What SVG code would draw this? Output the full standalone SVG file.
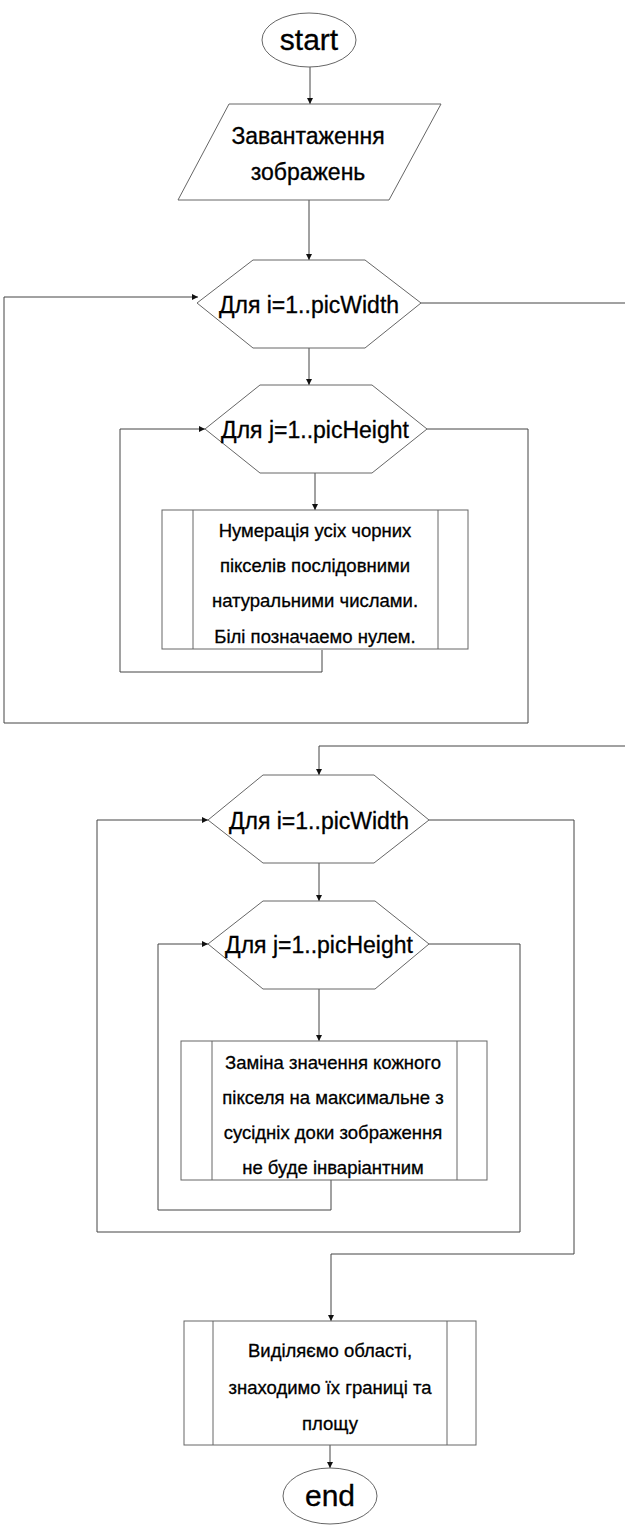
<svg xmlns="http://www.w3.org/2000/svg" width="625" height="1525" viewBox="0 0 625 1525">
<style>
.s{fill:#fff;stroke:#666;stroke-width:1}
.c{fill:none;stroke:#444;stroke-width:1}
.t{font-family:"Liberation Sans",Arial,sans-serif;fill:#000;stroke:#000;stroke-width:0.3;text-anchor:middle}
.big{font-size:30px}
.h{font-size:23px}
.b{font-size:18.5px}
</style>
<defs>
<marker id="a" markerWidth="8" markerHeight="8" refX="6" refY="3" orient="auto" markerUnits="userSpaceOnUse">
<path d="M0,0 L6,3 L0,6 Z" fill="#111"/>
</marker>
</defs>
<rect width="625" height="1525" fill="#fff"/>
<g id="connectors">
<path class="c" d="M310,67 L310,104" marker-end="url(#a)"/>
<path class="c" d="M309,200 L309,260" marker-end="url(#a)"/>
<path class="c" d="M421,303 L625,303"/>
<path class="c" d="M309,348 L309,385" marker-end="url(#a)"/>
<path class="c" d="M315,473 L315,510" marker-end="url(#a)"/>
<path class="c" d="M322,650 L322,672 L120,672 L120,429 L205,429" marker-end="url(#a)"/>
<path class="c" d="M427,429 L528,429 L528,723 L4,723 L4,297 L198,297" marker-end="url(#a)"/>
<path class="c" d="M625,746 L319,746 L319,775" marker-end="url(#a)"/>
<path class="c" d="M319,863 L319,901" marker-end="url(#a)"/>
<path class="c" d="M319,989 L319,1041" marker-end="url(#a)"/>
<path class="c" d="M331,1180 L331,1210 L158,1210 L158,944 L208,944" marker-end="url(#a)"/>
<path class="c" d="M429,944 L520,944 L520,1232 L97,1232 L97,820 L208,820" marker-end="url(#a)"/>
<path class="c" d="M429,820 L574,820 L574,1254 L331,1254 L331,1321" marker-end="url(#a)"/>
<path class="c" d="M330,1445 L330,1468" marker-end="url(#a)"/>
</g>
<g id="start">
<ellipse class="s" cx="309" cy="40" rx="47" ry="27"/>
<text class="t big" x="309" y="50">start</text>
</g>
<g id="load">
<polygon class="s" points="229,104 441,104 389,200 178,200"/>
<text class="t h" x="308" y="144">Завантаження</text>
<text class="t h" x="308" y="180">зображень</text>
</g>
<g id="loop-i-1">
<polygon class="s" points="197,303 253,260 365,260 421,303 365,348 253,348"/>
<text class="t h" x="309" y="313">Для i=1..picWidth</text>
</g>
<g id="loop-j-1">
<polygon class="s" points="205,429 260,385 372,385 427,429 372,473 260,473"/>
<text class="t h" x="315" y="438">Для j=1..picHeight</text>
</g>
<g id="numbering">
<rect class="s" x="162" y="510" width="306" height="139"/>
<line class="s" x1="193" y1="510" x2="193" y2="649"/>
<line class="s" x1="438" y1="510" x2="438" y2="649"/>
<text class="t b" x="315" y="536.5">Нумерація усіх чорних</text>
<text class="t b" x="315" y="571.5">пікселів послідовними</text>
<text class="t b" x="315" y="606.5">натуральними числами.</text>
<text class="t b" x="315" y="642.5">Білі позначаемо нулем.</text>
</g>
<g id="loop-i-2">
<polygon class="s" points="208,820 263,775 374,775 429,820 374,863 263,863"/>
<text class="t h" x="319" y="829">Для i=1..picWidth</text>
</g>
<g id="loop-j-2">
<polygon class="s" points="208,944 263,901 375,901 429,944 375,989 263,989"/>
<text class="t h" x="319" y="953">Для j=1..picHeight</text>
</g>
<g id="replace">
<rect class="s" x="181" y="1041" width="306" height="139"/>
<line class="s" x1="212" y1="1041" x2="212" y2="1180"/>
<line class="s" x1="457" y1="1041" x2="457" y2="1180"/>
<text class="t b" x="333" y="1068.5">Заміна значення кожного</text>
<text class="t b" x="333" y="1103.5">пікселя на максимальне з</text>
<text class="t b" x="333" y="1138.5">сусідніх доки зображення</text>
<text class="t b" x="333" y="1173.5">не буде інваріантним</text>
</g>
<g id="regions">
<rect class="s" x="184" y="1321" width="292" height="124"/>
<line class="s" x1="213" y1="1321" x2="213" y2="1445"/>
<line class="s" x1="447" y1="1321" x2="447" y2="1445"/>
<text class="t b" x="330" y="1356.5">Виділяємо області,</text>
<text class="t b" x="330" y="1393.5">знаходимо їх границі та</text>
<text class="t b" x="330" y="1429.5">площу</text>
</g>
<g id="end">
<ellipse class="s" cx="330" cy="1496" rx="47" ry="28"/>
<text class="t big" x="330" y="1506">end</text>
</g>
</svg>
